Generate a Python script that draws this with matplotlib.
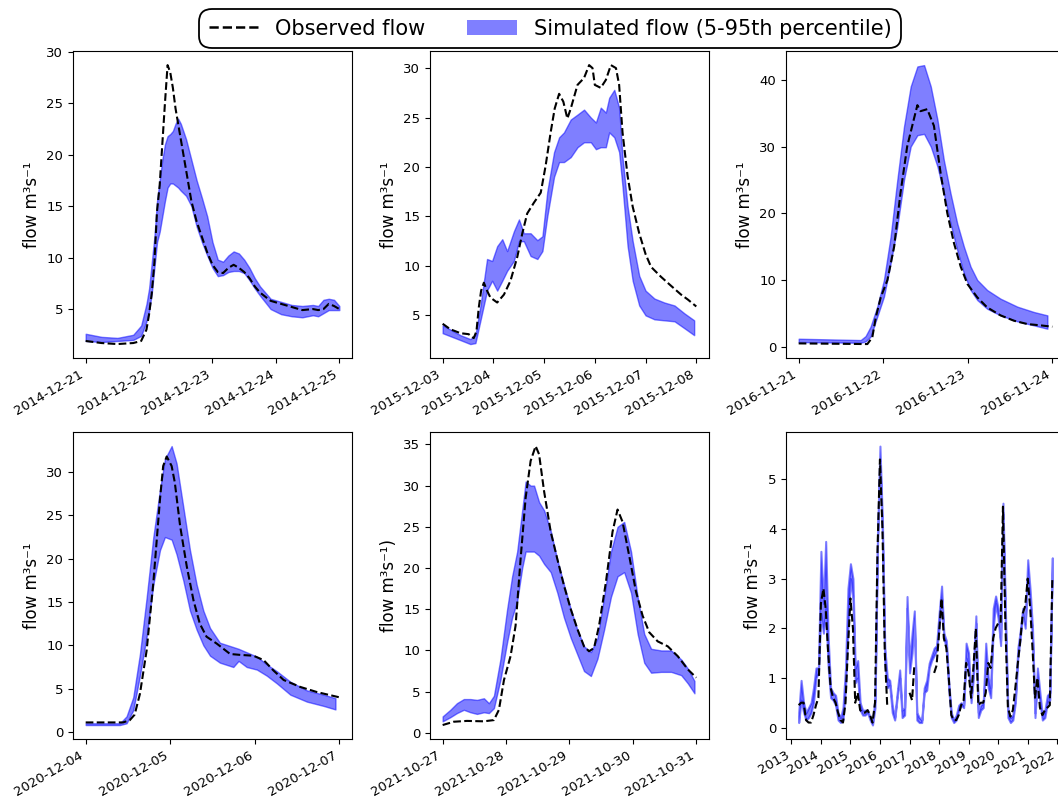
import numpy as np
import pandas as pd
import matplotlib
matplotlib.use('Agg')
import matplotlib.pyplot as plt
import matplotlib.dates as mdates
from matplotlib.lines import Line2D
from matplotlib.patches import Patch

# --- event 1: 2014-12-21 .. 2014-12-25 (hours from start) ---
p1_start = '2014-12-21'
p1_hours = [0, 6, 12, 18, 21, 23, 24, 25, 26, 27, 28, 29, 30, 31, 32, 33, 34, 35, 36, 38,
            40, 42, 44, 46, 48, 50, 52, 54, 56, 58, 60, 62, 64, 66, 70, 74, 78, 82, 86, 88,
            90, 92, 94, 96]
p1_obs = [1.9, 1.7, 1.6, 1.7, 1.9, 3.0, 4.5, 6.5, 9.5, 14.5, 17.0, 21.0, 25.0, 28.7, 28.0,
          26.5, 24.5, 23.0, 21.5, 18.5, 15.5, 13.5, 12.0, 10.5, 9.3, 8.6, 8.5, 9.0, 9.3, 9.0,
          8.6, 8.0, 7.2, 6.6, 5.8, 5.5, 5.2, 4.9, 5.0, 4.9, 5.0, 5.5, 5.3, 5.0]
p1_lo = [1.9, 1.8, 1.9, 2.0, 2.4, 3.8, 4.8, 6.5, 9.0, 11.5, 12.5, 14.0, 15.5, 16.8, 17.2,
         17.2, 17.0, 16.8, 16.5, 16.0, 15.0, 13.0, 11.5, 10.2, 9.0, 8.2, 8.3, 8.6, 8.7, 8.7,
         8.5, 7.8, 7.0, 6.3, 5.0, 4.5, 4.3, 4.2, 4.4, 4.3, 4.6, 4.9, 4.9, 4.9]
p1_hi = [2.6, 2.3, 2.2, 2.5, 3.4, 5.5, 7.0, 9.5, 12.0, 15.5, 17.5, 19.5, 21.0, 21.8, 22.0,
         22.3, 23.0, 23.5, 23.0, 21.5, 19.5, 17.5, 15.8, 14.0, 11.5, 9.8, 9.6, 10.2, 10.6, 10.4,
         9.8, 9.0, 8.0, 7.2, 6.0, 5.7, 5.4, 5.3, 5.4, 5.3, 5.9, 6.0, 5.9, 5.3]

# --- event 2: 2015-12-03 .. 2015-12-08 ---
p2_start = '2015-12-03'
p2_obs_h = [0, 3.6, 8.4, 12.3, 14.7, 16, 17.1, 18.2, 19.5, 21, 22.6, 25.8, 29, 32.1, 35.3,
            37.7, 40, 43.2, 46.4, 48.7, 51.1, 53, 55.1, 57.1, 59, 60.6, 63.8, 66.9, 69.3, 70.9,
            72, 74.8, 77.2, 79.6, 82, 83.5, 85.1, 87.5, 89.9, 93, 96, 98.6, 103.3, 108, 112.8,
            116, 120]
p2_obs = [4.15, 3.6, 3.2, 3.1, 2.7, 3.4, 5.8, 7.5, 8.3, 7.5, 6.8, 6.3, 7.1, 8.5, 10.9, 13.3,
          15.3, 16.4, 17.4, 20.1, 23.5, 25.9, 27.4, 26.6, 24.9, 25.9, 28.3, 29.0, 30.3, 30.0,
          28.3, 28.0, 28.8, 30.3, 30.0, 28.3, 23.5, 19.1, 16.0, 13.3, 11.2, 9.9, 8.9, 8.0, 7.1,
          6.6, 5.9]
p2_sim_h = [0, 8.4, 13.1, 15.5, 17.9, 21, 23.4, 25.8, 28.2, 30.5, 33.7, 36.1, 38.4, 41.6,
            44.8, 47.2, 49.5, 52.7, 55.1, 57.4, 60.6, 63.8, 66.9, 70.1, 72.5, 74.8, 77.2, 78.8,
            81.2, 83.5, 85.1, 87.5, 89.9, 93, 96, 100.2, 104.9, 109.7, 114.4, 119]
p2_lo = [3.2, 2.5, 2.1, 2.2, 4.5, 7.5, 8.5, 7.5, 8.5, 9.5, 10.5, 12.5, 12.5, 11.0, 10.7,
         11.5, 15.0, 19.0, 20.5, 20.5, 21.0, 22.0, 22.5, 22.5, 21.8, 22.0, 22.0, 23.5, 23.0,
         21.5, 18.0, 12.0, 8.5, 6.0, 5.0, 4.6, 4.5, 4.4, 3.7, 3.0]
p2_hi = [4.0, 3.0, 2.6, 3.0, 6.0, 10.7, 10.5, 12.0, 12.7, 11.5, 13.5, 14.7, 13.3, 13.3, 12.6,
         13.0, 17.5, 21.5, 23.0, 23.5, 24.8, 25.3, 25.8, 25.0, 24.5, 26.0, 25.5, 27.0, 27.8,
         26.0, 21.0, 16.0, 12.5, 9.0, 7.5, 6.7, 6.3, 6.0, 5.2, 4.5]

# --- event 3: 2016-11-21 .. 2016-11-24 ---
p3_start = '2016-11-21'
p3_obs_h = [0, 19.5, 20.9, 21.9, 23.3, 25.2, 27.1, 28.9, 30.8, 32.7, 33.7, 34.6, 36.5, 38.4,
            40.3, 42.2, 44.1, 46.0, 47.9, 50.7, 53.5, 57.3, 61.1, 64.9, 68.7, 72]
p3_obs = [0.5, 0.4, 1.4, 4.4, 7.4, 10.0, 15.0, 23.0, 30.0, 34.1, 36.2, 35.3, 35.6, 33.1,
          26.0, 20.0, 15.5, 12.0, 9.4, 7.4, 5.9, 4.7, 3.9, 3.4, 3.2, 3.0]
p3_sim_h = [0, 17.6, 19.0, 20.4, 22.3, 24.2, 26.1, 28.0, 29.9, 31.8, 33.7, 35.6, 37.5, 39.4,
            41.2, 43.1, 45.0, 46.9, 48.8, 50.7, 53.5, 57.3, 62.1, 66.8, 70.6]
p3_lo = [0.7, 0.6, 0.8, 1.5, 4.5, 7.5, 12.5, 18.0, 25.0, 30.0, 31.7, 31.9, 30.0, 27.0, 23.0,
         18.5, 14.5, 11.0, 8.5, 7.0, 5.7, 4.7, 3.8, 3.2, 2.7]
p3_hi = [1.2, 1.0, 1.6, 3.0, 6.0, 10.0, 16.5, 25.0, 33.0, 39.0, 42.0, 42.2, 39.0, 34.0, 28.0,
         23.0, 18.5, 15.0, 12.0, 10.0, 8.5, 7.2, 6.0, 5.2, 4.7]

# --- event 4: 2020-12-04 .. 2020-12-07 ---
p4_start = '2020-12-04'
p4_obs_h = [0, 10.6, 12.5, 13.9, 15.4, 17.3, 19.2, 21.1, 22.0, 23.0, 24.4, 25.3, 26.8, 28.7,
            30.6, 32.4, 34.3, 37.2, 41.0, 43.8, 47.6, 50.5, 53.3, 56.2, 60.9, 65.7, 72]
p4_obs = [1.1, 1.1, 1.35, 2.0, 4.4, 9.4, 17.2, 26.9, 30.7, 31.8, 30.7, 28.8, 23.8, 19.1,
          15.2, 12.5, 11.0, 10.2, 9.0, 8.9, 8.8, 8.3, 7.1, 6.0, 5.2, 4.6, 4.0]
p4_sim_h = [0, 9.7, 11.6, 13.5, 15.4, 17.3, 19.2, 21.1, 22.5, 24.4, 25.8, 27.7, 29.6, 31.5,
            33.4, 35.3, 38.1, 41.9, 43.4, 45.7, 48.6, 51.4, 54.3, 58.1, 62.8, 67.6, 70.9]
p4_lo = [0.8, 0.8, 1.0, 2.5, 6.5, 11.0, 17.0, 21.0, 22.5, 22.2, 20.5, 17.5, 14.0, 11.8,
         10.0, 8.8, 8.0, 7.5, 8.2, 7.5, 7.2, 6.5, 5.6, 4.3, 3.5, 3.0, 2.6]
p4_hi = [1.0, 1.0, 1.8, 4.0, 9.0, 15.5, 22.5, 28.0, 31.5, 33.0, 31.0, 26.0, 21.0, 17.0,
         14.0, 12.0, 10.3, 9.8, 9.6, 9.2, 8.7, 7.8, 7.0, 5.8, 4.8, 4.3, 3.9]

# --- event 5: 2021-10-27 .. 2021-10-31 ---
p5_start = '2021-10-27'
p5_obs_h = [0, 4.2, 9.2, 15.6, 19.4, 21.3, 23.2, 25.7, 27.6, 29.5, 31.4, 33.3, 35.2, 36.5,
            38.4, 40.9, 43.4, 45.9, 48.5, 51.0, 53.5, 55.4, 57.3, 59.2, 61.8, 64.3, 66.2, 68.1,
            70.6, 73.2, 75.7, 78.2, 81.4, 85.2, 89.0, 92.8, 96]
p5_obs = [0.95, 1.35, 1.45, 1.4, 1.55, 2.8, 6.4, 9.3, 13.0, 21.1, 28.5, 33.0, 34.8, 33.8,
          29.3, 24.4, 21.1, 17.9, 15.0, 12.6, 10.5, 9.9, 10.3, 13.0, 18.3, 24.4, 27.1, 25.6,
          21.5, 17.1, 14.2, 12.2, 11.1, 10.5, 9.3, 7.7, 6.7]
p5_sim_h = [0, 2.9, 5.4, 8.0, 10.5, 13.0, 15.6, 17.5, 19.4, 21.9, 24.4, 26.3, 28.2, 30.1,
            31.4, 33.3, 34.6, 36.5, 38.4, 40.9, 43.4, 45.9, 48.5, 51.0, 53.5, 56.1, 58.6, 61.1,
            63.7, 66.2, 68.7, 71.3, 73.8, 76.3, 78.9, 82.7, 86.5, 90.3, 92.8, 95.3]
p5_lo = [1.4, 1.9, 2.4, 2.8, 2.5, 2.3, 2.5, 2.4, 3.0, 6.5, 11.0, 14.0, 16.0, 20.0, 22.0,
         22.0, 22.0, 21.5, 20.5, 19.5, 17.0, 14.0, 11.5, 9.5, 7.5, 6.9, 9.0, 12.5, 16.5, 19.0,
         19.5, 17.0, 12.0, 8.5, 7.3, 7.4, 7.4, 7.0, 6.0, 4.8]
p5_hi = [2.0, 2.8, 3.6, 4.1, 4.1, 4.0, 4.2, 3.6, 4.5, 9.0, 15.0, 19.0, 22.0, 27.0, 30.5,
         30.0, 30.0, 28.0, 27.0, 24.5, 21.0, 18.0, 15.0, 12.5, 10.5, 9.8, 11.5, 16.5, 22.0,
         25.0, 25.6, 22.0, 16.5, 12.0, 10.2, 10.0, 10.0, 8.9, 7.8, 6.3]

# --- monthly series 2013-04 .. 2021-11 ---
nan = np.nan
p6_months = pd.date_range('2013-04-01', periods=104, freq='MS')
p6_obs = [0.45, 0.5, 0.5, 0.15, 0.1, 0.1, 0.25, 0.45, 0.6,
          2.5, 2.8, 2.4, 1.5, 0.8, 0.6, 0.5, 0.3, 0.15, 0.1, 0.5, 1.6,
          2.6, 2.0, 0.5, 0.7, 0.35, 0.3, 0.3, 0.35, 0.25, 0.1, 0.5, 3.5,
          5.4, 4.0, 1.5, 0.4, nan, nan, nan, nan, nan, nan, nan, nan,
          0.7, 0.55, 1.25, nan, nan, nan, nan, nan, nan, nan, 1.1, 1.25,
          1.9, 2.6, 1.8, 1.6, 1.0, 0.25, 0.15, 0.15, 0.25, 0.45, 0.55, 1.3,
          1.1, 0.6, 1.2, 2.0, 0.45, 0.5, 0.5, 0.7, 1.3, 1.2, 1.8, 2.0,
          2.1, 2.1, 4.45, 2.0, 0.4, 0.22, 0.35, 0.8, 1.3, 1.75, 2.3, 2.45,
          3.0, 2.4, 1.6, 0.6, 1.0, 0.4, 0.25, 0.35, 0.4, 0.45, 2.97]
p6_lo = [0.1, 0.55, 0.3, 0.15, 0.2, 0.3, 0.5, 1.0, 1.1,
         2.3, 1.9, 2.4, 1.2, 0.6, 0.55, 0.45, 0.15, 0.1, 0.15, 0.8, 2.0,
         3.0, 2.6, 0.9, 1.0, 0.35, 0.25, 0.25, 0.3, 0.15, 0.05, 0.4, 3.6,
         5.4, 3.8, 1.3, 0.8, 0.85, 0.3, 0.15, 0.6, 1.0, 0.2, 0.25, 2.4,
         1.1, 1.5, 2.2, 0.15, 0.1, 0.1, 0.7, 0.75, 1.2, 1.35, 1.45, 1.55,
         2.0, 2.6, 1.8, 1.6, 0.75, 0.2, 0.1, 0.15, 0.35, 0.45, 0.4, 1.4,
         1.2, 0.5, 1.0, 2.1, 0.2, 0.35, 0.4, 1.3, 0.8, 0.6, 2.0, 2.5,
         2.2, 1.65, 4.3, 2.0, 0.2, 0.1, 0.15, 0.5, 1.4, 1.8, 2.3, 2.0,
         3.1, 2.5, 1.8, 0.2, 1.0, 0.5, 0.15, 0.2, 0.5, 0.55, 3.3]
p6_hi = [0.3, 0.95, 0.5, 0.3, 0.4, 0.5, 0.8, 1.2, 1.2,
         3.55, 2.5, 3.75, 1.8, 0.8, 0.7, 0.65, 0.3, 0.2, 0.4, 1.2, 2.8,
         3.3, 3.0, 1.2, 1.35, 0.5, 0.35, 0.35, 0.35, 0.2, 0.1, 0.6, 3.8,
         5.67, 4.1, 1.6, 1.0, 0.95, 0.45, 0.2, 0.7, 1.16, 0.35, 0.4, 2.64,
         1.3, 1.9, 2.35, 0.3, 0.2, 0.15, 0.8, 0.95, 1.3, 1.45, 1.6, 1.65,
         2.3, 2.85, 1.9, 1.75, 0.9, 0.3, 0.15, 0.25, 0.45, 0.5, 0.45, 1.7,
         1.5, 0.6, 1.2, 2.25, 0.3, 0.45, 0.5, 1.7, 1.0, 0.8, 2.4, 2.65,
         2.4, 1.75, 4.52, 2.3, 0.35, 0.2, 0.25, 0.6, 1.6, 1.95, 2.4, 2.1,
         3.38, 2.75, 2.0, 0.3, 1.2, 0.7, 0.25, 0.35, 0.65, 0.7, 3.42]

ylabel = 'flow m³s⁻¹'

plt.rcParams['xtick.labelsize'] = 9.5
plt.rcParams['ytick.labelsize'] = 9.5


def to_times(start, hours):
    return pd.Timestamp(start) + pd.to_timedelta(hours, unit='h')


def plot_event(ax, start, obs_h, obs, sim_h, lo, hi, label=ylabel):
    ax.fill_between(to_times(start, sim_h), lo, hi, color='blue', alpha=0.5)
    ax.plot(to_times(start, obs_h), obs, 'k--', lw=1.5)
    ax.xaxis.set_major_locator(mdates.DayLocator())
    ax.xaxis.set_major_formatter(mdates.DateFormatter('%Y-%m-%d'))
    ax.set_ylabel(label, fontsize=12)
    plt.setp(ax.get_xticklabels(), rotation=30, ha='right')


fig = plt.figure(figsize=(10.58, 7.97), dpi=100)

# axes positions (third column runs past the right edge, as in the cropped original)
lefts = [0.069, 0.4064, 0.7429]
w, h = 0.2637, 0.385
bottoms = [0.5508, 0.0728]
axs = [[fig.add_axes([l, b, w, h]) for l in lefts] for b in bottoms]

plot_event(axs[0][0], p1_start, p1_hours, p1_obs, p1_hours, p1_lo, p1_hi)
plot_event(axs[0][1], p2_start, p2_obs_h, p2_obs, p2_sim_h, p2_lo, p2_hi)
plot_event(axs[0][2], p3_start, p3_obs_h, p3_obs, p3_sim_h, p3_lo, p3_hi)
plot_event(axs[1][0], p4_start, p4_obs_h, p4_obs, p4_sim_h, p4_lo, p4_hi)
plot_event(axs[1][1], p5_start, p5_obs_h, p5_obs, p5_sim_h, p5_lo, p5_hi, label='flow m³s⁻¹)')

ax6 = axs[1][2]
ax6.fill_between(p6_months, p6_lo, p6_hi, color='blue', alpha=0.5, lw=1.5)
ax6.plot(p6_months, p6_obs, 'k--', lw=1.5)
ax6.xaxis.set_major_locator(mdates.YearLocator())
ax6.xaxis.set_major_formatter(mdates.DateFormatter('%Y'))
ax6.set_ylabel(ylabel, fontsize=12)
plt.setp(ax6.get_xticklabels(), rotation=30, ha='right')

handles = [Line2D([], [], color='black', ls='--', lw=1.8),
           Patch(facecolor='blue', alpha=0.5, edgecolor='none')]
leg = fig.legend(handles, ['Observed flow', 'Simulated flow (5-95th percentile)'],
                 loc='center', bbox_to_anchor=(0.52, 0.964), ncol=2, fontsize=15,
                 frameon=True, fancybox=True, framealpha=1, edgecolor='black',
                 handlelength=2.4, handletextpad=0.8, columnspacing=2.0, borderpad=0.45)
leg.get_frame().set_boxstyle('round,pad=0,rounding_size=0.6')
leg.get_frame().set_linewidth(1.3)

fig.savefig('out.png', dpi=100)
